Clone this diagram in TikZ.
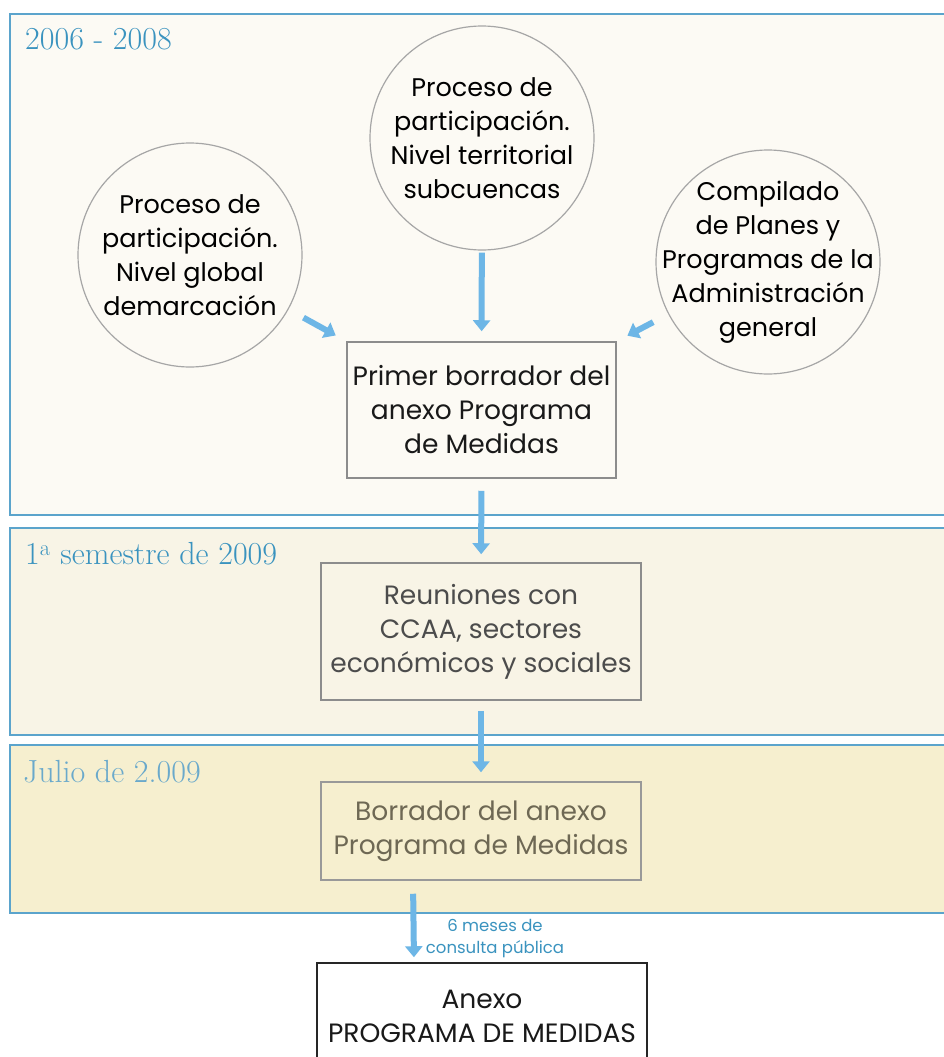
\documentclass[tikz,border=0pt]{standalone}
\usepackage{fontspec}
\newfontfamily\gothic{Poppins}
\usetikzlibrary{arrows.meta}

\definecolor{bandline}{HTML}{5BA4CC}
\definecolor{bandA}{HTML}{FCFAF4}
\definecolor{bandB}{HTML}{F8F4E6}
\definecolor{bandC}{HTML}{F6EFCF}
\definecolor{arrowblue}{HTML}{6DB6E6}
\definecolor{labelblue}{HTML}{3A93BF}
\definecolor{julioblue}{HTML}{6AA9CB}

\begin{document}
\begin{tikzpicture}[
    x=1pt, y=-1pt,
    band/.style={draw=bandline,line width=2pt},
    period/.style={anchor=west,inner sep=0pt,font=\fontsize{32}{36}\selectfont},
    source/.style={circle,draw=black!35,line width=1.2pt,minimum size=224pt,inner sep=-40pt,align=center,
      font=\gothic\fontsize{25.5}{34}\selectfont},
    stage/.style={rectangle,draw=black!45,line width=1.5pt,align=center,inner sep=0pt,
      font=\gothic\fontsize{26.5}{34}\selectfont},
    flow/.style={arrowblue,line width=6pt,-{Triangle[width=17pt,length=11pt]}}
    ]

    \useasboundingbox (0,0) rectangle (944,1057);
    \fill[white] (0,0) rectangle (944,1057);

    % time bands:
    \draw[band,fill=bandA] (10,14) rectangle (960,515);
    \draw[band,fill=bandB] (10,528) rectangle (960,735);
    \draw[band,fill=bandC] (10,745) rectangle (960,913);

    \node (p1) at (25,39) [period,text=labelblue] {2006 - 2008};
    \node (p2) at (25,554) [period,text=labelblue] {1\textsuperscript{a} semestre de 2009};
    \node (p3) at (23,772) [period,text=julioblue] {Julio de 2.009};

    % sources:
    \node (leftc) at (190,255) [source] {Proceso de\\participación.\\Nivel global\\demarcación};
    \node (midc) at (482,138) [source] {Proceso de\\participación.\\Nivel territorial\\subcuencas};
    \node (rightc) at (768,262) [source] {Compilado\\de Planes y\\Programas de la\\Administración\\general};

    % stages:
    \node (box1) at (481.5,410) [stage,text=black!90,minimum width=269pt,minimum height=136pt]
      {Primer borrador del\\anexo Programa\\de Medidas};
    \node (box2) at (481,631.5) [stage,text=black!70,minimum width=320pt,minimum height=137pt]
      {Reuniones con\\CCAA, sectores\\económicos y sociales};
    \node (box3) at (481,831) [stage,draw=black!40,text={rgb,255:red,110;green,104;blue,84},
      minimum width=320pt,minimum height=98pt]
      {Borrador del anexo\\Programa de Medidas};
    \node (final) at (482,1016) [stage,draw=black!85,fill=white,text=black!90,
      minimum width=330pt,minimum height=106pt]
      {Anexo\\PROGRAMA DE MEDIDAS};

    % connections:
    \draw[flow,shorten <=17pt,shorten >=12pt] (leftc) -- (box1.north west);
    \draw[flow,shorten <=2pt,shorten >=10pt] (midc) -- (box1);
    \draw[flow,shorten <=17pt,shorten >=12pt] (rightc) -- (box1.north east);
    \draw[flow,shorten <=12pt,shorten >=8pt] (box1) -- (box2);
    \draw[flow,shorten <=10pt,shorten >=9pt] (box2) -- (box3);
    \draw[flow,shorten <=13pt,shorten >=5pt] ([xshift=-68pt]box3.south) -- ([xshift=-68pt]final.north);

    \node (note) at (495,939) [align=center,text=labelblue,inner sep=0pt,
      font=\gothic\fontsize{16.5}{22}\selectfont] {6 meses de\\consulta pública};

  \end{tikzpicture}
\end{document}
